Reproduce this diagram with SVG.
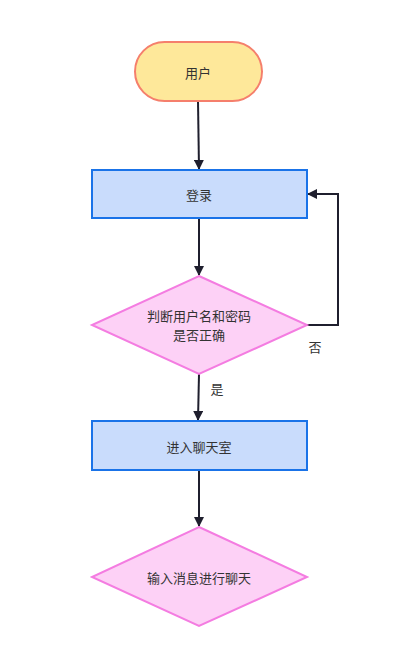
<svg xmlns="http://www.w3.org/2000/svg" width="407" height="657" viewBox="0 0 407 657">
<style>
.t{font-family:"Noto Sans CJK SC","Noto Sans",sans-serif;font-size:13px;fill:#333;text-anchor:middle;dominant-baseline:central}
.box{fill:#c9dcfc;stroke:#1a73e8;stroke-width:2}
.dia{fill:#fdd1f6;stroke:#f47ce1;stroke-width:2}
.ln{fill:none;stroke:#1f1f2e;stroke-width:2}
</style>
<defs>
<marker id="ah" markerWidth="10" markerHeight="10" refX="9" refY="5" orient="auto" markerUnits="userSpaceOnUse">
<path d="M0,0 L10,5 L0,10 Z" fill="#1f1f2e"/>
</marker>
</defs>
<rect width="407" height="657" fill="#fff"/>
<g id="connectors">
<path class="ln" d="M198,101 L199,169" marker-end="url(#ah)"/>
<path class="ln" d="M199,218 L199,275" marker-end="url(#ah)"/>
<path class="ln" d="M307,325 L338,325 L338,194 L308,194" marker-end="url(#ah)"/>
<path class="ln" d="M199,374 L198,420" marker-end="url(#ah)"/>
<path class="ln" d="M199,470 L199,526" marker-end="url(#ah)"/>
<text class="t" x="315" y="346">否</text>
<text class="t" x="217" y="388">是</text>
</g>
<g id="user">
<rect x="135" y="42" width="127" height="59" rx="29.5" fill="#fee89a" stroke="#f57f6c" stroke-width="2"/>
<text class="t" x="198" y="72">用户</text>
</g>
<g id="login">
<rect class="box" x="92" y="170" width="215" height="48"/>
<text class="t" x="199" y="194">登录</text>
</g>
<g id="check">
<polygon class="dia" points="199,276 307,325 199,374 92,325"/>
<text class="t" x="199" y="315">判断用户名和密码</text>
<text class="t" x="199" y="334">是否正确</text>
</g>
<g id="enter">
<rect class="box" x="92" y="421" width="215" height="49"/>
<text class="t" x="199" y="446">进入聊天室</text>
</g>
<g id="chat">
<polygon class="dia" points="199,527 307,577 199,626 92,577"/>
<text class="t" x="199" y="577">输入消息进行聊天</text>
</g>
</svg>
